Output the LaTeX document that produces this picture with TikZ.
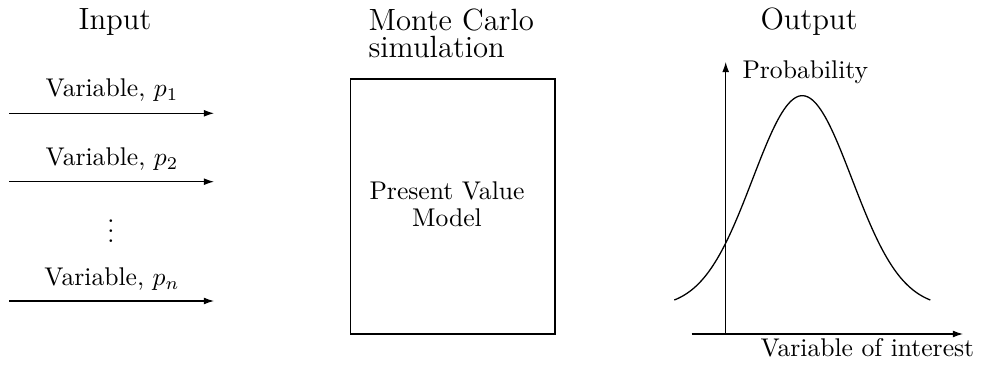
\documentclass[tikz,border=0pt]{standalone}
\usetikzlibrary{arrows.meta,fit}
\begin{document}
\begin{tikzpicture}[x=0.3906pt, y=-0.3906pt,
  title/.style={font=\large, inner sep=0pt, anchor=base},
  varlabel/.style={inner sep=0pt, anchor=base},
  inarrow/.style={-{Latex[length=4pt,width=2.7pt]}},
  axis/.style={-{Latex[length=4pt,width=2.7pt]}},
  modelbox/.style={draw, inner sep=0pt},
  plain/.style={inner sep=0pt}]
\useasboundingbox (0,0) rectangle (983,367);

% ---- Input column ----
\node[title] (tin) at (115,30) {Input};
\node[varlabel] (l1) at (112,97) {Variable, $p_1$};
\node[varlabel] (l2) at (112,165.5) {Variable, $p_2$};
\node[varlabel] (ldots) at (111,243) {$\vdots$};
\node[varlabel] (ln) at (112,285.5) {Variable, $p_n$};
\coordinate (a1s) at (9,113.3);  \coordinate (a1e) at (214,113.3);
\coordinate (a2s) at (9,181.7);  \coordinate (a2e) at (214,181.7);
\coordinate (ans) at (9,301);    \coordinate (ane) at (214,301);
\draw[inarrow] (a1s) -- (a1e);
\draw[inarrow] (a2s) -- (a2e);
\draw[inarrow] (ans) -- (ane);

% ---- Simulation column ----
\node[font=\fontsize{12}{10.5}\selectfont, align=left, anchor=north west,
      inner sep=0pt] (tmc) at (368,8.3) {Monte Carlo\\simulation};
\coordinate (bnw) at (350.7,79);
\coordinate (bse) at (555,334);
\node[modelbox, fit=(bnw)(bse)] (box) {};
\node[plain, align=center, font=\fontsize{10}{10.5}\selectfont]
  (pv) at (447,204.5) {Present Value\\Model};

% ---- Output column ----
\node[title] (tout) at (809,30) {Output};
\coordinate (o) at (725.7,334);
\coordinate (ytop) at (725.7,62);
\coordinate (xl) at (691.7,334);
\coordinate (xr) at (963,334);
\draw[axis] (o) -- (ytop);
\draw[axis] (xl) -- (xr);
\node[plain, anchor=base west] (ylab) at (742,79) {Probability};
\node[plain, anchor=base west] (xlab) at (760,356.7) {Variable of interest};

% bell-shaped density curve
\draw[domain=674.3:930.3, samples=120, smooth, line width=0.5pt]
  plot (\x, {307.7 - 212*exp(-0.5*pow((\x-802.3)/49.7,2))});
\end{tikzpicture}
\end{document}
